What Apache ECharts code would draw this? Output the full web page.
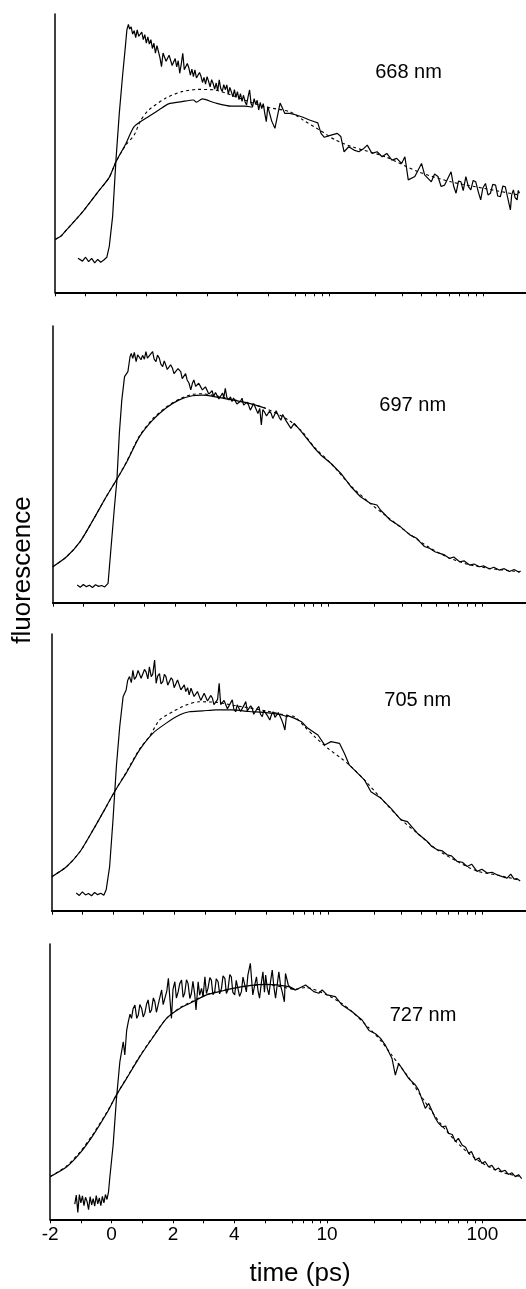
<!DOCTYPE html>
<html>
<head>
<meta charset="utf-8">
<script src="https://cdn.jsdelivr.net/npm/echarts@6.0.0/dist/echarts.min.js"></script>
<style>
  html, body { margin: 0; padding: 0; background: #fff; }
  #chart { width: 526px; height: 1289px; }
</style>
</head>
<body>
<div id="chart"></div>
<script>
// time axis: linear up to 5 ps, log above 6 ps
const tickTimes = [-2, -1, 0, 1, 2, 3, 4, 5, 6, 7, 8, 9, 10, 20, 30, 40, 50, 60, 70, 80, 90, 100];
const labelTimes = [-2, 0, 2, 4, 10, 100];
const wavelengths = ['668 nm', '697 nm', '705 nm', '727 nm'];

// [time (ps), fluorescence (0-100 of panel height)]
const trace668 = [[-1.25,12.2],[-1.2,12.0],[-1.1,11.2],[-1.0,12.6],[-0.9,11.0],[-0.8,12.2],[-0.7,10.6],[-0.6,11.8],[-0.5,10.8],[-0.4,11.6],[-0.3,12.6],[-0.22,16.5],[-0.11,27.2],[0,47.5],[0.11,64.3],[0.22,78.1],[0.3,87.1],[0.36,94.3],[0.41,96.3],[0.45,94.6],[0.5,95.4],[0.55,92.8],[0.6,94.0],[0.65,91.5],[0.7,94.3],[0.75,92.0],[0.8,91.4],[0.85,93.5],[0.9,90.8],[0.95,92.6],[1.0,89.5],[1.05,91.8],[1.1,89.2],[1.15,90.8],[1.2,87.6],[1.25,89.5],[1.3,85.9],[1.35,88.6],[1.4,86.5],[1.45,84.2],[1.5,81.1],[1.55,86.0],[1.6,85.9],[1.65,83.0],[1.7,82.3],[1.75,85.2],[1.8,84.7],[1.85,81.5],[1.9,82.0],[1.95,84.0],[2.0,81.0],[2.05,83.2],[2.1,78.7],[2.15,82.0],[2.2,85.9],[2.25,80.0],[2.3,79.3],[2.35,82.2],[2.4,80.6],[2.45,78.0],[2.5,80.2],[2.55,77.5],[2.6,79.9],[2.65,77.0],[2.7,76.3],[2.75,79.0],[2.8,77.6],[2.85,75.4],[2.9,77.2],[2.95,74.8],[3.0,77.5],[3.05,75.8],[3.1,73.8],[3.15,76.4],[3.2,75.0],[3.25,73.0],[3.3,75.2],[3.35,72.4],[3.4,76.3],[3.45,73.2],[3.5,72.2],[3.55,74.6],[3.6,72.8],[3.65,74.5],[3.7,71.2],[3.75,73.6],[3.8,72.0],[3.85,70.2],[3.9,72.8],[3.95,70.0],[4.0,72.1],[4.05,69.2],[4.1,71.4],[4.15,68.6],[4.2,70.8],[4.25,68.5],[4.3,67.3],[4.35,70.2],[4.4,72.7],[4.45,67.8],[4.5,66.7],[4.55,69.6],[4.6,67.5],[4.65,69.0],[4.7,65.5],[4.75,68.2],[4.8,66.0],[4.85,67.8],[4.9,64.3],[4.95,61.3],[5.0,66.7],[5.14,61.6],[5.26,58.9],[5.45,68.0],[5.62,64.3],[5.81,64.3],[6.12,63.7],[6.75,62.9],[7.45,61.9],[8.03,61.3],[8.43,60.9],[8.85,57.1],[9.3,55.7],[10.3,56.5],[11.3,57.1],[11.9,56.0],[12.5,50.5],[13.4,52.3],[14.5,51.1],[15.6,50.5],[16.8,51.7],[17.7,52.9],[19.0,49.9],[20.5,50.5],[22.1,48.7],[23.7,49.9],[25.6,47.5],[27.5,48.1],[29.6,46.3],[31.1,48.7],[32.7,40.4],[36.1,41.6],[39.9,46.3],[41.8,42.2],[46.2,39.7],[48.5,42.5],[51.0,41.6],[53.5,38.0],[56.3,38.5],[59,40.8],[62.1,43.3],[64.5,38.2],[66.9,35.6],[69.5,40.0],[72.0,39.7],[74.5,36.5],[77.5,41.6],[80.5,38.0],[83.5,36.8],[86.5,40.2],[89.9,39.7],[93.5,36.0],[96.8,33.2],[100,37.5],[104,39.1],[108,35.0],[112,35.6],[116,38.8],[121,38.5],[125,34.6],[130,34.4],[135,38.2],[140,37.9],[145,34.0],[151,29.6],[154,35.0],[158,36.8],[162,34.0],[167,33.2],[170,36.6],[173,35.6]];
const smooth668 = [[-2,19.0],[-1.8,20.3],[-1.63,22.4],[-1.09,29.0],[-0.54,36.8],[-0.22,41.3],[0,46.9],[0.33,53.5],[0.6,59.5],[0.98,62.5],[1.41,65.5],[1.73,67.7],[2.17,68.5],[2.55,69.1],[2.65,68.3],[2.84,69.5],[3.25,68.1],[3.79,66.9],[4.23,66.9],[4.5,66.5]];
const fit668 = [[-2,19.0],[-1.8,20.3],[-1.63,22.4],[-1.09,29.0],[-0.54,36.8],[-0.22,41.3],[0,46.9],[0.33,53.0],[0.6,56.5],[0.8,61.5],[1.08,65.5],[1.63,69.7],[2.17,72.1],[2.71,72.9],[3.25,72.7],[3.79,70.9],[4.23,69.1],[4.88,66.7],[5.8,64.9],[6.76,61.9],[8.65,58.3],[11.0,54.7],[14.1,52.3],[23.2,48.7],[37.9,43.3],[62,39.7],[103,37.3],[170,35.0]];

const trace697 = [[-1.2,6.4],[-1.1,5.6],[-1.0,6.6],[-0.9,5.8],[-0.8,6.3],[-0.7,5.5],[-0.6,6.5],[-0.5,5.9],[-0.4,6.2],[-0.3,5.7],[-0.19,7.0],[-0.09,20.2],[0.02,34.7],[0.1,44.3],[0.18,61.2],[0.26,73.2],[0.35,81.7],[0.46,83.5],[0.53,88.9],[0.57,90.1],[0.62,88.3],[0.67,90.5],[0.73,87.1],[0.78,89.6],[0.84,90.1],[0.89,87.8],[0.94,89.4],[1.0,88.0],[1.05,90.7],[1.1,88.4],[1.16,87.7],[1.21,89.9],[1.27,90.7],[1.32,88.0],[1.38,87.1],[1.43,89.5],[1.49,88.3],[1.54,86.2],[1.6,85.3],[1.65,87.4],[1.7,85.9],[1.75,84.3],[1.81,84.1],[1.86,86.0],[1.92,84.7],[1.97,82.8],[2.03,82.3],[2.1,84.6],[2.19,83.5],[2.24,81.0],[2.3,81.1],[2.35,82.8],[2.4,80.5],[2.46,79.4],[2.52,76.9],[2.57,79.2],[2.62,80.5],[2.68,78.2],[2.73,77.5],[2.78,79.3],[2.84,78.1],[2.9,76.9],[2.95,76.3],[3.0,78.0],[3.06,77.5],[3.11,75.4],[3.17,75.1],[3.22,76.6],[3.27,74.5],[3.33,76.0],[3.38,75.7],[3.44,73.6],[3.49,73.9],[3.56,75.8],[3.6,74.0],[3.65,77.5],[3.7,74.2],[3.76,73.3],[3.82,74.4],[3.87,72.7],[3.92,74.0],[3.98,73.3],[4.03,71.8],[4.09,71.5],[4.15,72.8],[4.2,73.9],[4.25,71.4],[4.3,70.9],[4.36,72.5],[4.41,71.5],[4.47,69.6],[4.52,70.3],[4.58,72.0],[4.63,71.5],[4.68,69.4],[4.72,68.4],[4.78,70.2],[4.83,64.2],[4.88,69.8],[4.93,69.0],[5.0,67.5],[5.05,67.2],[5.11,69.2],[5.17,68.4],[5.23,66.6],[5.29,67.8],[5.35,69.4],[5.41,69.0],[5.47,66.8],[5.53,66.0],[5.59,68.0],[5.65,67.8],[5.71,65.8],[5.77,65.4],[5.89,63.0],[6.03,64.8],[6.66,62.0],[7.35,59.0],[8.11,56.0],[8.95,53.4],[10.4,50.4],[12.05,46.8],[14.0,42.0],[16.2,38.3],[18.7,35.9],[20.7,35.3],[21.8,33.5],[25.2,29.9],[29.3,27.5],[33.8,24.5],[37.4,23.3],[39.3,22.0],[42,20.3],[45.6,19.6],[49.1,18.4],[52.8,17.8],[56,17.4],[61.2,16.0],[65,16.5],[71,14.8],[76,15.1],[82.3,13.6],[88,14.0],[95.4,13.0],[102,13.3],[110.5,12.2],[118,12.8],[128,11.8],[138,12.3],[149,11.3],[160,12.0],[172,11.0],[176,11.5]];
const smooth697 = [[-2,13.0],[-1.55,16.6],[-1.11,22.0],[-0.68,29.9],[-0.25,38.3],[0.08,44.3],[0.4,50.4],[0.84,60.0],[1.27,66.0],[1.7,70.3],[2.14,73.3],[2.57,74.8],[2.9,75.0],[3.33,74.4],[3.87,73.3],[4.41,72.1],[4.96,70.3]];
const fit697 = [[-2,13.0],[-1.55,16.6],[-1.11,22.0],[-0.68,29.9],[-0.25,38.3],[0.08,44.3],[0.4,50.6],[0.84,60.3],[1.27,66.4],[1.7,70.6],[2.14,73.6],[2.57,75.3],[2.9,75.5],[3.33,74.8],[3.87,73.5],[4.41,72.1],[4.96,70.3],[5.77,66.2],[6.66,62.3],[8.11,56.3],[10.4,50.4],[14,42.3],[18.7,35.9],[25.2,30.2],[33.8,24.7],[45.6,19.8],[61.2,16.1],[82.3,13.7],[110.5,12.4],[172,11.2]];

const trace705 = [[-1.2,6.4],[-1.1,5.5],[-1.0,6.8],[-0.9,5.7],[-0.8,6.2],[-0.7,5.4],[-0.6,6.6],[-0.5,5.8],[-0.4,6.3],[-0.3,5.6],[-0.22,7.7],[-0.11,15.9],[0,32.8],[0.11,52.0],[0.22,66.5],[0.33,77.3],[0.43,79.8],[0.48,83.2],[0.54,84.6],[0.6,82.4],[0.65,86.9],[0.7,83.6],[0.76,84.6],[0.82,86.8],[0.87,87.5],[0.92,84.0],[0.98,84.6],[1.03,87.2],[1.08,86.3],[1.14,83.8],[1.19,88.1],[1.25,84.6],[1.3,85.5],[1.36,90.6],[1.41,82.2],[1.46,84.8],[1.52,85.7],[1.57,82.0],[1.63,82.8],[1.68,85.4],[1.73,84.6],[1.79,81.5],[1.84,81.6],[1.9,84.2],[1.95,83.4],[2.0,80.6],[2.06,81.0],[2.11,83.4],[2.17,82.8],[2.22,79.8],[2.28,80.4],[2.33,81.6],[2.38,79.2],[2.44,80.6],[2.49,78.0],[2.55,80.4],[2.6,79.8],[2.65,77.4],[2.71,76.8],[2.76,79.2],[2.82,78.6],[2.87,76.0],[2.93,76.2],[2.98,78.6],[3.04,78.6],[3.09,75.8],[3.14,75.6],[3.2,77.8],[3.25,76.8],[3.3,74.5],[3.36,75.0],[3.42,76.4],[3.47,82.2],[3.52,74.5],[3.58,73.8],[3.63,76.0],[3.69,75.6],[3.74,73.0],[3.79,73.2],[3.85,75.2],[3.9,76.2],[3.95,72.8],[4.01,71.9],[4.06,74.4],[4.12,75.0],[4.17,72.0],[4.23,72.6],[4.28,74.2],[4.34,75.6],[4.39,72.2],[4.44,71.9],[4.5,74.0],[4.55,73.2],[4.6,71.0],[4.66,70.7],[4.71,73.0],[4.77,73.8],[4.82,71.0],[4.88,70.1],[4.93,72.4],[4.99,71.9],[5.07,70.2],[5.14,68.9],[5.2,70.8],[5.26,71.9],[5.33,69.9],[5.39,69.5],[5.45,71.6],[5.51,71.3],[5.57,69.0],[5.62,67.7],[5.69,65.3],[5.75,70.7],[5.8,70.1],[6.12,69.5],[6.76,68.3],[7.45,65.9],[8.64,63.5],[9.54,59.9],[10.5,61.1],[11.9,60.5],[12.8,56.9],[13.8,52.6],[14.9,50.8],[17.3,47.2],[19.0,43.0],[22.1,40.6],[25.6,37.0],[29.7,32.8],[32.7,32.2],[37.9,28.0],[44,25.0],[47,23.2],[51,22.0],[55,21.6],[59,20.2],[63,19.8],[68.6,17.8],[74,17.5],[79.6,16.0],[85,16.8],[92.2,14.2],[99,15.0],[107,13.6],[115,13.9],[124,13.0],[134,12.3],[144,11.8],[152,13.2],[160,11.4],[167,11.6],[175,10.7]];
const smooth705 = [[-2,12.3],[-1.52,15.9],[-1.08,21.3],[-0.65,29.2],[-0.22,37.6],[0.05,43.0],[0.43,49.7],[0.87,58.1],[1.3,64.1],[1.73,67.7],[2.17,70.7],[2.49,71.9],[2.93,72.2],[3.36,72.6],[3.9,72.6],[4.44,72.0],[4.99,71.6],[5.5,70.9],[5.8,70.1]];
const fit705 = [[-2,12.3],[-1.52,15.9],[-1.08,21.3],[-0.65,29.2],[-0.22,37.6],[0.05,43.0],[0.43,50.0],[0.87,58.5],[1.19,62.9],[1.52,68.9],[1.95,71.9],[2.38,74.3],[2.82,75.5],[3.4,75.3],[3.9,74.3],[4.5,73.2],[5.0,72.2],[5.8,70.5],[6.12,70.1],[7.09,66.5],[8.22,62.9],[10.0,58.7],[12.2,55.1],[14.2,52.0],[17.3,47.2],[22.1,40.6],[29.7,33.0],[37.9,28.0],[51,22.0],[68.6,17.8],[92.2,14.3],[124,12.9],[175,11.0]];

const trace727 = [[-1.2,5.5],[-1.15,8.8],[-1.1,2.5],[-1.05,9.0],[-1.0,6.0],[-0.95,8.5],[-0.9,5.0],[-0.85,8.0],[-0.8,6.5],[-0.75,3.5],[-0.7,8.2],[-0.65,5.2],[-0.6,7.5],[-0.55,4.8],[-0.5,8.6],[-0.45,5.6],[-0.4,7.8],[-0.35,5.0],[-0.3,8.3],[-0.25,6.0],[-0.2,9.0],[-0.15,7.2],[-0.1,10.0],[-0.06,14.9],[0.05,27.0],[0.16,44.0],[0.27,57.3],[0.38,64.5],[0.43,59.7],[0.49,68.5],[0.54,71.5],[0.6,74.5],[0.65,73.0],[0.7,76.5],[0.76,77.8],[0.82,73.0],[0.87,74.2],[0.92,78.0],[0.98,76.6],[1.03,73.5],[1.08,74.8],[1.14,78.2],[1.19,79.7],[1.25,75.0],[1.3,76.0],[1.36,80.4],[1.41,79.0],[1.46,75.2],[1.52,75.4],[1.57,80.5],[1.63,83.3],[1.68,78.0],[1.74,77.8],[1.8,83.0],[1.85,87.5],[1.9,80.0],[1.95,73.0],[2.0,83.5],[2.06,86.3],[2.11,80.4],[2.17,82.7],[2.22,85.6],[2.28,86.9],[2.33,80.6],[2.38,82.1],[2.44,87.0],[2.49,85.7],[2.55,80.2],[2.6,82.1],[2.65,86.4],[2.71,81.5],[2.75,76.0],[2.82,86.3],[2.87,81.4],[2.93,83.9],[2.98,80.8],[3.04,88.1],[3.09,82.0],[3.14,83.9],[3.2,87.8],[3.25,86.9],[3.3,81.6],[3.36,82.7],[3.41,87.4],[3.47,86.3],[3.52,81.9],[3.58,83.9],[3.63,88.4],[3.69,87.5],[3.74,82.0],[3.79,83.3],[3.85,88.9],[3.9,88.1],[3.95,82.4],[4.01,81.5],[4.06,86.8],[4.12,86.3],[4.17,81.0],[4.23,82.7],[4.28,88.0],[4.34,87.5],[4.39,82.6],[4.44,88.7],[4.52,93.0],[4.6,81.5],[4.66,85.0],[4.72,88.1],[4.77,83.0],[4.82,80.3],[4.88,86.0],[4.93,89.9],[4.98,82.5],[5.02,88.7],[5.08,84.0],[5.14,81.5],[5.2,86.5],[5.26,90.5],[5.32,84.4],[5.38,80.3],[5.44,85.2],[5.5,89.9],[5.56,85.0],[5.62,82.7],[5.7,79.0],[5.74,89.3],[5.84,85.2],[5.93,83.9],[6.27,83.3],[7.27,85.1],[8.22,82.7],[8.84,82.1],[9.3,83.3],[10.0,81.5],[11.3,80.9],[12.5,77.8],[14.5,75.4],[16.8,72.4],[18.6,68.6],[20.5,67.4],[22.1,65.7],[23.7,63.3],[26.2,58.4],[27.5,52.4],[28.9,56.6],[33.5,51.2],[37.0,48.8],[38.8,47.0],[42.9,40.3],[45.1,42.1],[49.8,36.7],[52,35.0],[55,33.6],[58,33.9],[60.6,31.2],[64,30.8],[67,28.2],[70,29.4],[74,27.0],[78,26.2],[81.5,24.0],[85,24.6],[89.9,21.5],[95,22.3],[99.3,20.3],[104,21.0],[109.5,19.1],[115,19.6],[121,17.9],[127,18.6],[133,17.3],[140,17.8],[147,16.3],[155,16.9],[163,15.5],[171,16.2],[179,14.8]];
const smooth727 = [[-2,15.5],[-1.46,19.1],[-1.03,24.0],[-0.6,30.6],[-0.16,38.5],[0.16,45.2],[0.49,51.2],[0.92,59.1],[1.36,66.3],[1.79,73.0],[2.22,76.6],[2.65,79.0],[3.09,81.5],[3.52,82.7],[3.96,83.9],[4.5,84.9],[5.04,85.3],[5.86,84.5],[6.27,83.3]];
const fit727 = [[-2,15.5],[-1.46,19.4],[-1.03,24.4],[-0.6,31.0],[-0.16,38.8],[0.16,45.2],[0.49,51.4],[0.92,59.3],[1.36,66.5],[1.79,73.0],[2.22,76.8],[2.65,79.3],[3.09,81.6],[3.52,82.9],[3.96,83.9],[4.5,84.9],[5.04,85.3],[6.27,83.6],[7.27,84.2],[10,81.5],[12.5,78.3],[14.5,75.4],[18.6,69.5],[22.1,65.0],[26.2,59.5],[33.5,51.5],[42.9,42.5],[55,34.0],[67,28.5],[81.5,24.0],[99.3,20.5],[121,18.0],[147,16.4],[179,15.5]];

const traces = [trace668, trace697, trace705, trace727];
const smooths = [smooth668, smooth697, smooth705, smooth727];
const fits = [fit668, fit697, fit705, fit727];

// layout
const gridLeft = [55.2, 52.8, 51.8, 50.2];
const gridTop = [14, 326, 634, 944];
const gridBottom = [292.3, 602.7, 910.7, 1219.3];
const labelPos = [[408.5, 72.5], [412.7, 405.5], [417.7, 700.5], [423, 1015]];
const pxPerUnit = 30.75;
const axisMin = -2, axisMax = 13.5;

function axisPos(t) {
  if (t <= 5) return t;
  if (t < 6) return 5 + (t - 5) * 0.898;
  return 7.02 + 5.06 * Math.log10(t / 10);
}

const tickPos = tickTimes.map(axisPos);
const labelPosX = labelTimes.map(axisPos);
const FONT = '"Liberation Sans", Arial, Helvetica, sans-serif';

const chart = echarts.init(document.getElementById('chart'), null, { renderer: 'canvas' });

const grids = [], xAxes = [], yAxes = [], series = [], graphics = [];
for (let i = 0; i < 4; i++) {
  grids.push({
    left: gridLeft[i], top: gridTop[i],
    width: (axisMax - axisMin) * pxPerUnit,
    height: gridBottom[i] - gridTop[i]
  });
  xAxes.push({
    type: 'value', gridIndex: i, min: axisMin, max: axisMax,
    axisLine: { onZero: false, lineStyle: { color: '#000', width: 1.8 } },
    axisTick: { show: true, customValues: tickPos, length: 4, lineStyle: { color: '#000', width: 1 } },
    axisLabel: {
      show: i === 3, customValues: labelPosX, color: '#000', fontSize: 19,
      fontFamily: FONT, margin: 6,
      formatter: v => {
        const k = labelPosX.findIndex(p => Math.abs(p - v) < 1e-6);
        return k >= 0 ? String(labelTimes[k]) : '';
      }
    },
    splitLine: { show: false }
  });
  yAxes.push({
    type: 'value', gridIndex: i, min: 0, max: 100,
    axisLine: { show: true, onZero: false, lineStyle: { color: '#000', width: 1.5 } },
    axisTick: { show: false }, axisLabel: { show: false }, splitLine: { show: false }
  });
  const line = (name, d, extra) => Object.assign({
    name, type: 'line', xAxisIndex: i, yAxisIndex: i, symbol: 'none',
    data: d.map(([t, v]) => [axisPos(t), v]),
    lineStyle: { color: '#000', width: 1.2 }, silent: true
  }, extra || {});
  series.push(line('fit', fits[i], { smooth: 0.25, lineStyle: { color: '#000', width: 1.1, type: [3, 3] } }));
  series.push(line('smooth', smooths[i], { smooth: 0.25 }));
  series.push(line('trace', traces[i]));
  graphics.push({
    type: 'text', x: labelPos[i][0], y: labelPos[i][1],
    style: { text: wavelengths[i], font: '20px ' + FONT, fill: '#000', textAlign: 'center', textVerticalAlign: 'middle' }
  });
}

graphics.push({
  type: 'text', x: 300, y: 1274,
  style: { text: 'time (ps)', font: '26px ' + FONT, fill: '#000', textAlign: 'center', textVerticalAlign: 'middle' }
});
graphics.push({
  type: 'text', x: 23, y: 570, rotation: Math.PI / 2,
  style: { text: 'fluorescence', font: '26px ' + FONT, fill: '#000', textAlign: 'center', textVerticalAlign: 'middle' }
});

chart.setOption({
  animation: false,
  backgroundColor: '#fff',
  grid: grids,
  xAxis: xAxes,
  yAxis: yAxes,
  series,
  graphic: graphics
});
</script>
</body>
</html>
